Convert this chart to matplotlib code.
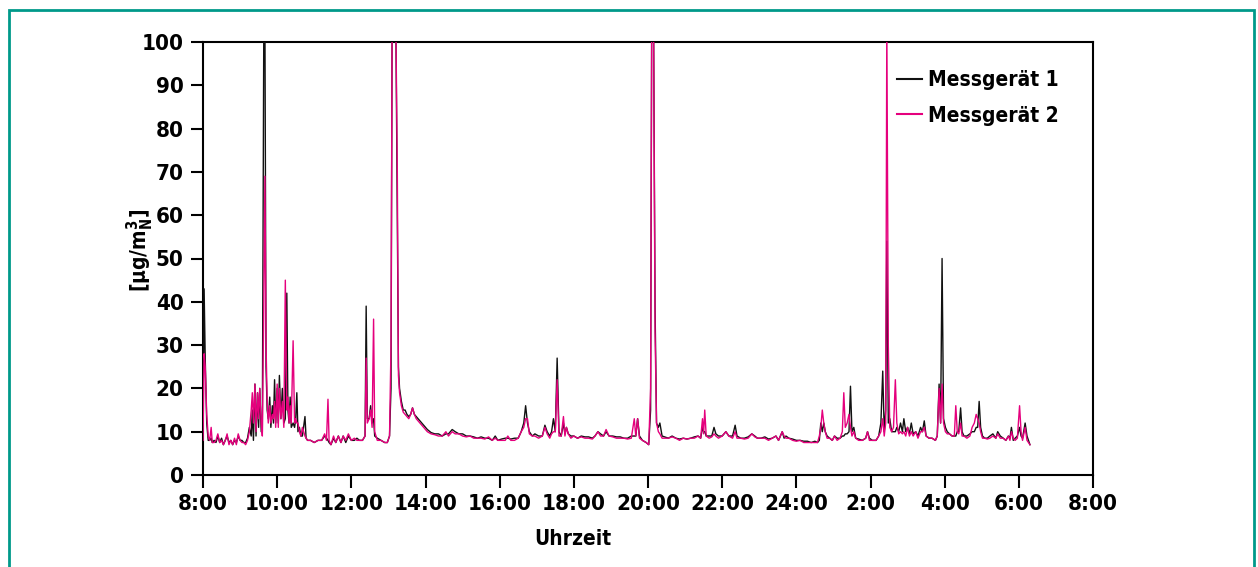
import matplotlib
matplotlib.use("Agg")
import matplotlib.pyplot as plt
from matplotlib.patches import Rectangle
from matplotlib import font_manager
import os

# ---------------- data (hours since midnight of day 1; >24 = next day) ----------------
t = [8.00, 8.03, 8.06, 8.10, 8.14, 8.18, 8.22, 8.25, 8.30, 8.35, 8.40, 8.45, 8.50, 8.55, 8.60,
     8.65, 8.70, 8.75, 8.80, 8.85, 8.90, 8.95, 9.00, 9.05, 9.10, 9.15, 9.20,
     9.25, 9.30, 9.33, 9.36, 9.40, 9.43, 9.47, 9.50, 9.53, 9.57, 9.60, 9.64, 9.67, 9.70, 9.73,
     9.76, 9.80, 9.83, 9.87, 9.90, 9.93, 9.96, 10.00, 10.03, 10.06, 10.10, 10.14, 10.18, 10.22,
     10.26, 10.29, 10.32, 10.35, 10.38, 10.43, 10.47, 10.50, 10.53, 10.56, 10.60, 10.64, 10.68,
     10.75, 10.78, 10.82,
     10.90, 11.00, 11.10, 11.20, 11.28, 11.33, 11.37, 11.40, 11.45, 11.52, 11.58, 11.65, 11.72,
     11.78, 11.85, 11.92, 12.00, 12.08, 12.15, 12.22, 12.30,
     12.37, 12.40, 12.43, 12.48, 12.52, 12.56, 12.60, 12.63, 12.70, 12.80, 12.90, 12.97, 13.03,
     13.07, 13.10, 13.15, 13.20, 13.24, 13.27, 13.30, 13.35, 13.40, 13.45, 13.50, 13.55, 13.60,
     13.65, 13.70, 13.75, 13.85, 13.95, 14.05, 14.15, 14.25, 14.35, 14.45, 14.55, 14.62, 14.72,
     14.80, 14.90, 15.00, 15.10, 15.20, 15.30, 15.40, 15.50, 15.60, 15.70, 15.80, 15.88, 15.95,
     16.05, 16.15, 16.22, 16.30, 16.40, 16.50,
     16.58, 16.65, 16.70, 16.75, 16.80, 16.88, 16.95, 17.05, 17.15, 17.22, 17.28, 17.35, 17.40,
     17.45, 17.50, 17.55, 17.60, 17.66, 17.72, 17.76, 17.80, 17.85, 17.92, 18.00, 18.10, 18.20,
     18.30, 18.40, 18.50, 18.57, 18.65, 18.72, 18.80, 18.87, 18.95, 19.05, 19.15, 19.25, 19.35,
     19.45, 19.55, 19.63, 19.67, 19.72, 19.77, 19.85, 19.95, 20.02,
     20.07, 20.10, 20.15, 20.19, 20.23, 20.28, 20.32, 20.38,
     20.45, 20.55, 20.65, 20.75, 20.85, 20.95, 21.05, 21.15, 21.25, 21.35, 21.42, 21.47, 21.50,
     21.53, 21.57, 21.65, 21.72, 21.78, 21.83, 21.90, 22.00, 22.10, 22.18, 22.28, 22.35, 22.40,
     22.50, 22.60, 22.70, 22.80, 22.88, 22.95, 23.05, 23.15, 23.25, 23.35, 23.45, 23.52, 23.62,
     23.67, 23.72, 23.80, 23.90, 24.00, 24.10,
     24.20, 24.30, 24.40, 24.50, 24.57, 24.62, 24.66, 24.70, 24.74, 24.78, 24.83, 24.90, 24.97,
     25.03, 25.10, 25.18, 25.24, 25.28, 25.32, 25.37, 25.42, 25.46, 25.50, 25.55, 25.60, 25.68,
     25.78, 25.87, 25.92, 25.97, 26.05, 26.15, 26.22, 26.28, 26.33, 26.37, 26.41, 26.44, 26.48,
     26.52, 26.57, 26.62, 26.67, 26.71, 26.76, 26.81, 26.86, 26.90, 26.95, 27.00, 27.05, 27.10,
     27.15, 27.22, 27.28, 27.35, 27.40, 27.45, 27.50, 27.58, 27.66, 27.75, 27.80, 27.85, 27.89,
     27.93, 27.97, 28.02, 28.07, 28.13, 28.20, 28.26, 28.30, 28.34, 28.38, 28.43, 28.47, 28.52,
     28.60, 28.68, 28.74, 28.80, 28.85, 28.89, 28.93, 28.97, 29.02, 29.08, 29.15, 29.22, 29.30,
     29.38, 29.43, 29.50, 29.58, 29.65, 29.72, 29.76, 29.80, 29.85, 29.90, 29.96, 30.02, 30.06,
     30.10, 30.17, 30.22, 30.30]

messgeraet_1 = [8, 43, 27, 12, 8, 8, 8.5, 7.5, 8, 7.5, 9, 7.5, 8.5, 7, 8,
                9, 7.5, 8, 7, 8, 7.5, 9, 8, 8, 7.5, 7.5, 8.5,
                11, 9, 15, 8, 21, 9, 19, 11, 20, 10, 10, 105, 105, 25, 15,
                13, 18, 11, 16, 12, 22, 12, 20, 12, 23, 13, 20, 12, 13,
                42, 15, 12, 18, 11, 12, 11, 13, 19, 10, 11, 9, 9,
                13.5, 8.5, 8,
                8, 7.5, 8, 8, 9, 8.5, 8, 7.5, 7, 8.5, 7.5, 9, 7.5,
                9, 7.5, 9, 8, 8, 8.5, 8, 8,
                9, 39, 13, 13, 16, 12, 13, 9, 8.5, 8, 7.5, 7.5, 9,
                20, 105, 105, 105, 60, 25, 20, 17, 15, 15, 14, 13.5, 14,
                15.5, 14, 13.5, 12.5, 11.5, 10.5, 9.8, 9.5, 9.5, 9, 9.5, 9.5, 10.5,
                10, 9.5, 9.5, 9, 9, 8.8, 8.5, 8.8, 8.5, 8.5, 8, 9, 8,
                8.3, 8.5, 8.5, 8.3, 8.5, 8.5,
                10, 12, 16, 12, 10, 9, 9.5, 9, 9, 11.5, 10, 9, 10,
                13, 10, 27, 10, 9, 12, 9.5, 11, 9.5, 9, 9, 8.5, 9,
                8.8, 8.8, 8.5, 9, 10, 9.5, 9, 10, 9, 9, 8.8, 8.8, 8.5,
                8.5, 9, 9, 9, 13, 9, 8, 7.5, 7,
                15, 105, 105, 39, 12, 11, 12, 9,
                8.8, 8.5, 9, 8.5, 8.3, 8.5, 8.3, 8.5, 8.8, 9, 8.5, 11, 10,
                10, 9, 9, 9, 11, 9.5, 9, 9, 10, 9, 9, 11.5, 9,
                8.5, 8.5, 8.8, 9.5, 9, 8.5, 8.5, 8.8, 8.3, 8.5, 9, 8, 10,
                8.5, 9, 8.5, 8.3, 8, 8,
                7.8, 7.8, 7.5, 7.8, 7.5, 8, 12, 10, 12, 10, 9, 8.5, 8,
                9, 8.5, 8.5, 9, 9, 9.5, 9.5, 10, 20.5, 10, 11, 8.5, 8.3,
                8, 8.5, 10, 8.5, 8, 8, 9, 12, 24, 10, 15, 54, 12,
                13, 10, 10, 10, 11, 10, 12, 10, 13, 10, 11, 9.5, 12,
                9.5, 10, 9, 11, 10, 12.5, 9, 8.5, 8.5, 8, 9, 21, 12,
                50, 13, 11, 10, 9.5, 9, 9, 9, 10, 10, 15.5, 10, 9,
                9, 9.5, 10, 10, 11, 11, 17, 11, 9, 8.5, 8.5, 9, 9.5,
                8.5, 10, 9, 8.5, 8, 9, 8.5, 11, 8, 8.5, 9, 11, 9,
                8.5, 12, 9, 7]

messgeraet_2 = [8, 28, 25, 14, 9, 8, 11, 7.5, 7.5, 8, 9.5, 7.5, 8, 7, 8,
                9.5, 7, 8, 7, 8.5, 7, 9.5, 8, 7.5, 7.5, 7, 8,
                10, 15, 19, 12, 21, 10, 19, 13, 20, 12, 9, 40, 69, 30, 17,
                12, 16, 12, 14, 13, 17, 11, 21, 11, 20, 13, 17, 11, 45,
                15, 18, 12, 16, 12, 31, 12, 13, 12, 12, 10, 9, 11,
                9, 8.5, 8,
                8, 7.5, 8, 8, 9.5, 8, 17.5, 8, 7, 9, 7.5, 9, 7.5,
                9, 8, 9.5, 8, 8.5, 8, 8, 8,
                9, 27, 12, 13, 15, 11, 36, 10, 8, 8, 7.5, 7.5, 9,
                30, 105, 105, 105, 70, 23, 19, 16, 14.5, 14, 13.5, 13, 14,
                15.5, 14, 13, 12, 11, 10, 9.5, 9.3, 9, 9, 10, 9, 10,
                9.5, 9.5, 9, 8.8, 9, 8.5, 8.5, 8.5, 8.3, 8.8, 8, 8.5, 8,
                8, 8, 9, 8, 8, 8.5,
                10, 11, 13, 13, 9.5, 9, 9, 8.5, 9, 11, 9.5, 8.5, 9.5,
                10, 10, 22, 9, 9, 13.5, 9, 11, 9.5, 8.5, 9, 8.5, 8.8,
                8.5, 8.5, 8.3, 9, 10, 9, 9, 10.5, 9, 8.8, 8.5, 8.5, 8.5,
                8.3, 8.5, 13, 9, 13, 8.5, 8, 7.5, 7,
                20, 105, 105, 33, 12, 10, 9.5, 8.5,
                8.5, 8.5, 8.8, 8.5, 8, 8.5, 8.3, 8.5, 8.5, 9, 8.5, 13, 9.5,
                15, 9, 8.5, 8.8, 9.5, 9, 8.5, 9, 10, 9, 8.5, 10, 8.5,
                8.5, 8.3, 8.5, 9.5, 8.8, 8.5, 8.5, 8.5, 8, 8.5, 9, 8, 10,
                9, 8.5, 8.5, 8, 7.8, 8,
                7.5, 7.5, 7.5, 7.5, 7.5, 9, 11, 15, 12, 10, 8.5, 8.5, 8,
                9, 8, 8.5, 10, 19, 11, 12, 14, 11, 9, 10, 8.5, 8,
                8, 8.5, 10, 8, 8, 8, 9, 10, 13, 9, 12, 105, 30,
                11, 10, 11, 22, 12, 9.5, 10, 9.5, 10, 9, 11, 9, 10,
                9, 10, 8.5, 10, 10, 11, 9, 8.5, 8.5, 8, 9, 20, 12,
                21, 12, 10, 9.5, 9.5, 9, 9, 16, 10, 9.5, 12, 9, 9,
                8.5, 9, 11, 12, 14, 13, 12, 10, 8.5, 8.5, 8.3, 8.5, 9,
                8.5, 9.5, 8.5, 8.5, 8, 9, 8, 10, 8.5, 8, 8.5, 16, 10,
                8, 11, 8, 7]

x_ticks = [8, 10, 12, 14, 16, 18, 20, 22, 24, 26, 28, 30, 32]
x_ticklabels = ["8:00", "10:00", "12:00", "14:00", "16:00", "18:00", "20:00",
                "22:00", "24:00", "2:00", "4:00", "6:00", "8:00"]
y_ticks = [0, 10, 20, 30, 40, 50, 60, 70, 80, 90, 100]
series_labels = ["Messgerät 1", "Messgerät 2"]
y_title = r"[µg/m$_{\mathrm{N}}^{\mathrm{3}}$]"
x_title = "Uhrzeit"

# ---------------- font: condensed bold face if available ----------------
fam = "DejaVu Sans"
stretch = "normal"
cands = [f for f in font_manager.fontManager.ttflist
         if ("narrow" in os.path.basename(f.fname).lower()
             or "condensed" in os.path.basename(f.fname).lower())
         and "bold" in os.path.basename(f.fname).lower()
         and "oblique" not in os.path.basename(f.fname).lower()
         and "italic" not in os.path.basename(f.fname).lower()]
if cands:
    pick = cands[0]
    for c in cands:
        if "liberation" in c.fname.lower():
            pick = c
    fam = pick.name
    stretch = pick.stretch

plt.rcParams["font.family"] = [fam, "DejaVu Sans"]
plt.rcParams["font.weight"] = "bold"
plt.rcParams["axes.labelweight"] = "bold"
plt.rcParams["font.stretch"] = stretch
math_spec = f"{fam}:weight=bold:stretch={stretch}"
plt.rcParams["mathtext.fontset"] = "custom"
plt.rcParams["mathtext.rm"] = math_spec
plt.rcParams["mathtext.it"] = math_spec
plt.rcParams["mathtext.bf"] = math_spec
plt.rcParams["mathtext.sf"] = math_spec

BLACK = "#111111"
PINK = "#e5007d"
TEAL = "#00998a"

fig = plt.figure(figsize=(12.58, 5.67), dpi=100)
fig.patch.set_facecolor("white")

frame = Rectangle((9 / 1258, -0.05), (1254 - 9) / 1258, (567 - 10) / 567 + 0.05,
                  transform=fig.transFigure, fill=False, edgecolor=TEAL, linewidth=2.0,
                  zorder=0)
fig.patches.append(frame)

ax = fig.add_axes([203 / 1258, (567 - 475) / 567, (1093 - 203) / 1258, (475 - 42) / 567])

ax.plot(t, messgeraet_1, color=BLACK, lw=1.0, label=series_labels[0], zorder=3)
ax.plot(t, messgeraet_2, color=PINK, lw=1.0, label=series_labels[1], zorder=4)

ax.set_xlim(8, 32)
ax.set_ylim(0, 100)
ax.set_xticks(x_ticks)
ax.set_xticklabels(x_ticklabels)
ax.set_yticks(y_ticks)

for sp in ax.spines.values():
    sp.set_linewidth(1.5)
    sp.set_color("black")

ax.tick_params(axis="both", direction="out", length=9, width=1.5, pad=5, labelsize=16)

ax.set_xlabel(x_title, fontsize=15, fontweight="bold")
ax.xaxis.set_label_coords((573 - 203) / 890, -0.125)

fig.text(140 / 1258, (567 - 250) / 567, y_title, fontsize=15, fontweight="bold",
         rotation=90, ha="center", va="center")

leg = ax.legend(loc="upper right", bbox_to_anchor=(1 - 34 / 890, 1 - 28 / 433),
                frameon=False, fontsize=15, handlelength=1.2, handletextpad=0.3,
                labelspacing=0.75, borderpad=0, borderaxespad=0)
for line in leg.get_lines():
    line.set_linewidth(1.5)

fig.savefig("out.png", dpi=100)
